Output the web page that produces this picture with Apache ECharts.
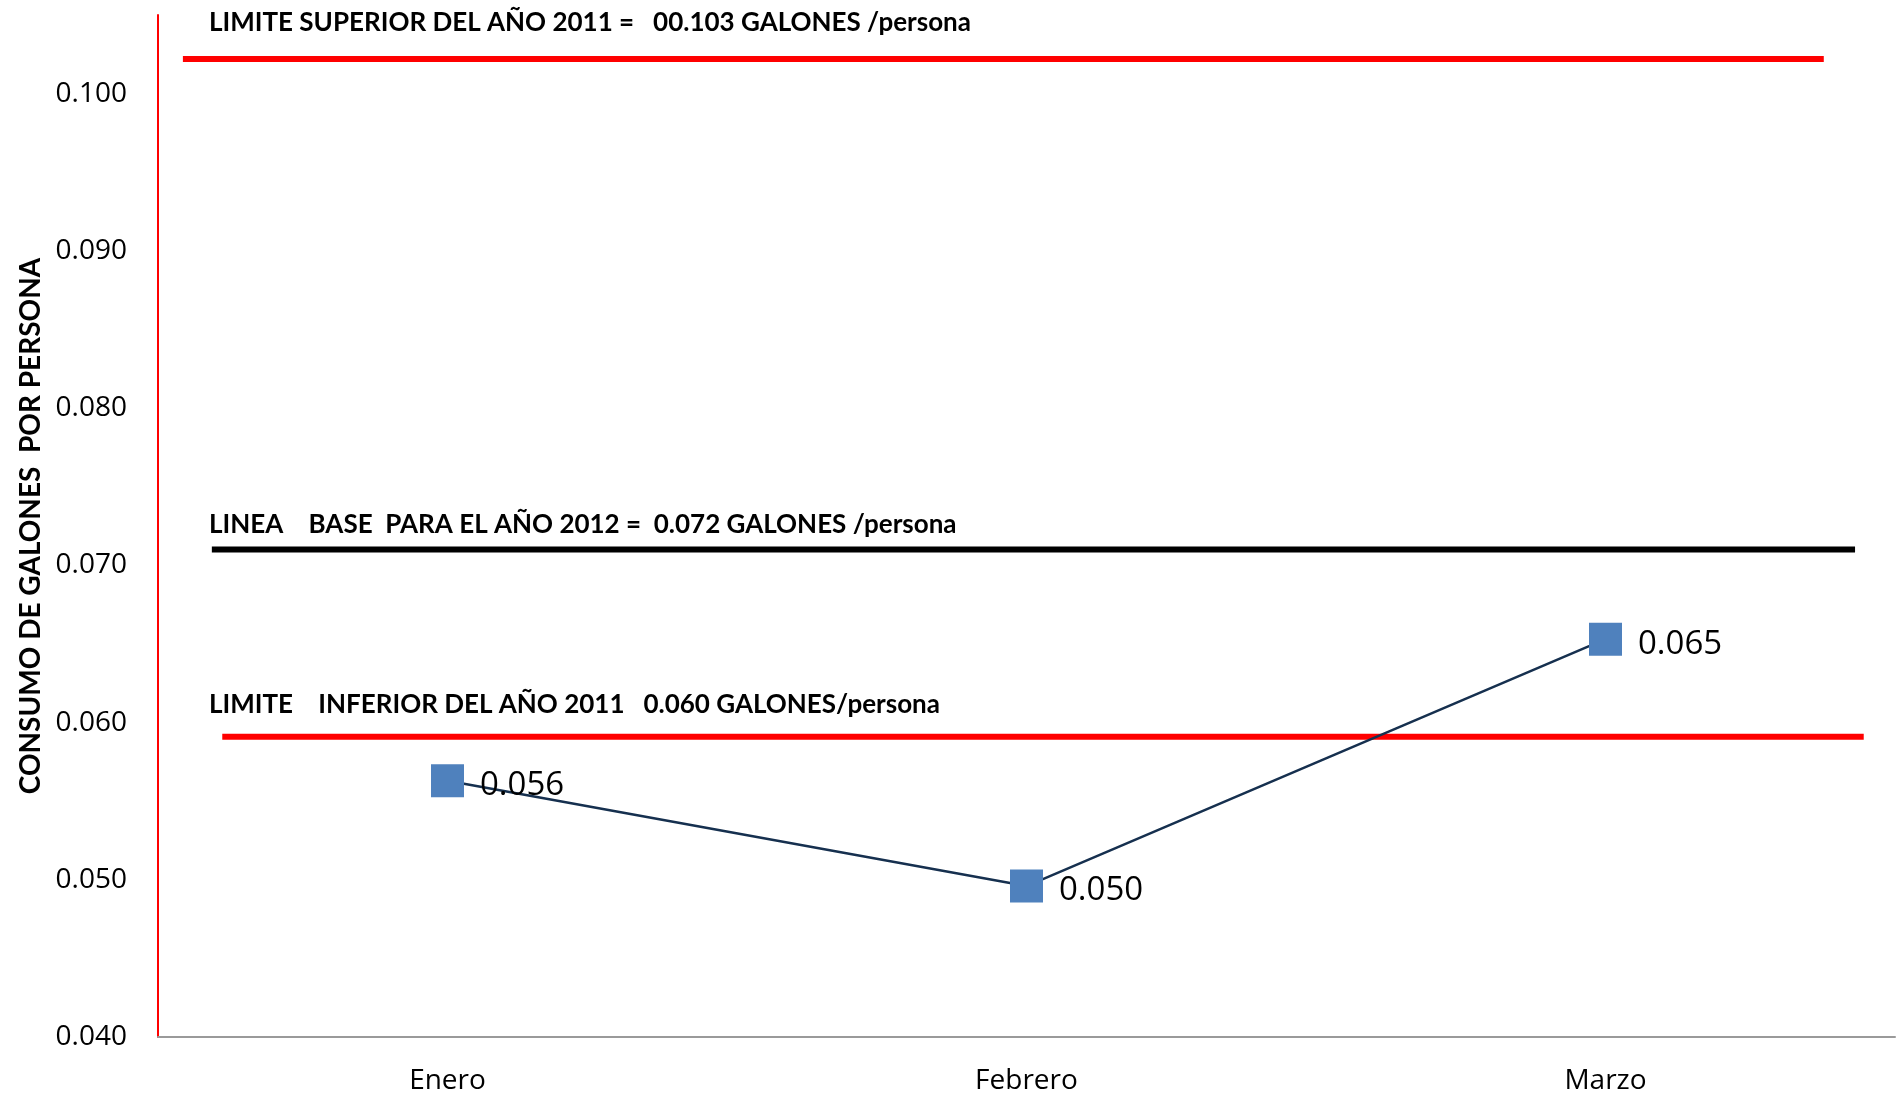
<!DOCTYPE html>
<html>
<head>
<meta charset="utf-8">
<script src="https://cdn.jsdelivr.net/npm/echarts@6/dist/echarts.min.js"></script>
<style>
html,body{margin:0;padding:0;background:#fff;}
#chart{width:1904px;height:1095px;}
</style>
</head>
<body>
<div id="chart"></div>
<script>
// ---- data ----
var categories = ['Enero', 'Febrero', 'Marzo'];
var consumo = [0.0563, 0.0496, 0.0653];
var yTicks = [0.040, 0.050, 0.060, 0.070, 0.080, 0.090, 0.100];
var yAxisTitle = 'CONSUMO DE GALONES  POR PERSONA';
// reference lines: value, start, end (in category units)
var limiteSuperior = [0.1022, 0.043, 2.877];
var lineaBase = [0.0710, 0.093, 2.931];
var limiteInferior = [0.0591, 0.111, 2.946];
var textoSuperior = 'LIMITE SUPERIOR DEL AÑO 2011 =   00.103 GALONES /persona';
var textoBase = 'LINEA    BASE  PARA EL AÑO 2012 =  0.072 GALONES /persona';
var textoInferior = 'LIMITE    INFERIOR DEL AÑO 2011   0.060 GALONES/persona';

var chart = echarts.init(document.getElementById('chart'));
var boldFont = '"Liberation Sans Narrow", Lato, sans-serif';

function refSeries(ref, color) {
  return {
    type: 'line', xAxisIndex: 1, yAxisIndex: 0, silent: true,
    symbol: 'none', z: 1,
    lineStyle: { color: color, width: 6 },
    data: [[ref[1], ref[0]], [ref[2], ref[0]]]
  };
}

chart.setOption({
  animation: false,
  grid: { left: 158, right: 9, top: 15, bottom: 57, containLabel: false },
  xAxis: [{
    type: 'category', data: categories, boundaryGap: true,
    axisLine: { lineStyle: { color: '#9a9a9a', width: 2 } },
    axisTick: { show: false },
    axisLabel: { fontFamily: '"Open Sans"', fontSize: 28, color: '#000', margin: 30 },
    splitLine: { show: false }
  }, {
    type: 'value', min: 0, max: 3, show: false
  }],
  yAxis: {
    type: 'value', min: 0.04, max: 0.105, interval: 0.01,
    name: yAxisTitle, nameLocation: 'middle', nameGap: 113,
    nameTextStyle: { fontFamily: boldFont, fontWeight: 'bold', fontSize: 28, color: '#000' },
    axisLine: { show: true, lineStyle: { color: '#ff0000', width: 2 } },
    axisTick: { show: false },
    splitLine: { show: false },
    axisLabel: {
      fontFamily: '"Open Sans"', fontSize: 28, color: '#000', margin: 31,
      showMaxLabel: false,
      formatter: function (v) { return v.toFixed(3); }
    }
  },
  series: [
    refSeries(limiteSuperior, '#ff0000'),
    refSeries(lineaBase, '#000000'),
    refSeries(limiteInferior, '#ff0000'),
    {
      type: 'line', data: consumo, z: 5,
      symbol: 'rect', symbolSize: 33,
      itemStyle: { color: '#4f81bd' },
      lineStyle: { color: '#16304f', width: 2.5 },
      label: {
        show: true, position: 'right', distance: 14, offset: [2, 5],
        fontFamily: '"Open Sans"', fontSize: 33, color: '#000',
        formatter: function (p) { return p.value.toFixed(3); }
      }
    }
  ]
});

function txt(ref, text, above) {
  var y = chart.convertToPixel({ yAxisIndex: 0 }, ref[0]);
  return {
    type: 'text', left: 209, top: y - above - 14, silent: true,
    style: { text: text, fontFamily: boldFont, fontWeight: 'bold', fontSize: 26, fill: '#000' }
  };
}
chart.setOption({
  graphic: [
    txt(limiteSuperior, textoSuperior, 35),
    txt(lineaBase, textoBase, 24),
    txt(limiteInferior, textoInferior, 31)
  ]
});
</script>
</body>
</html>
